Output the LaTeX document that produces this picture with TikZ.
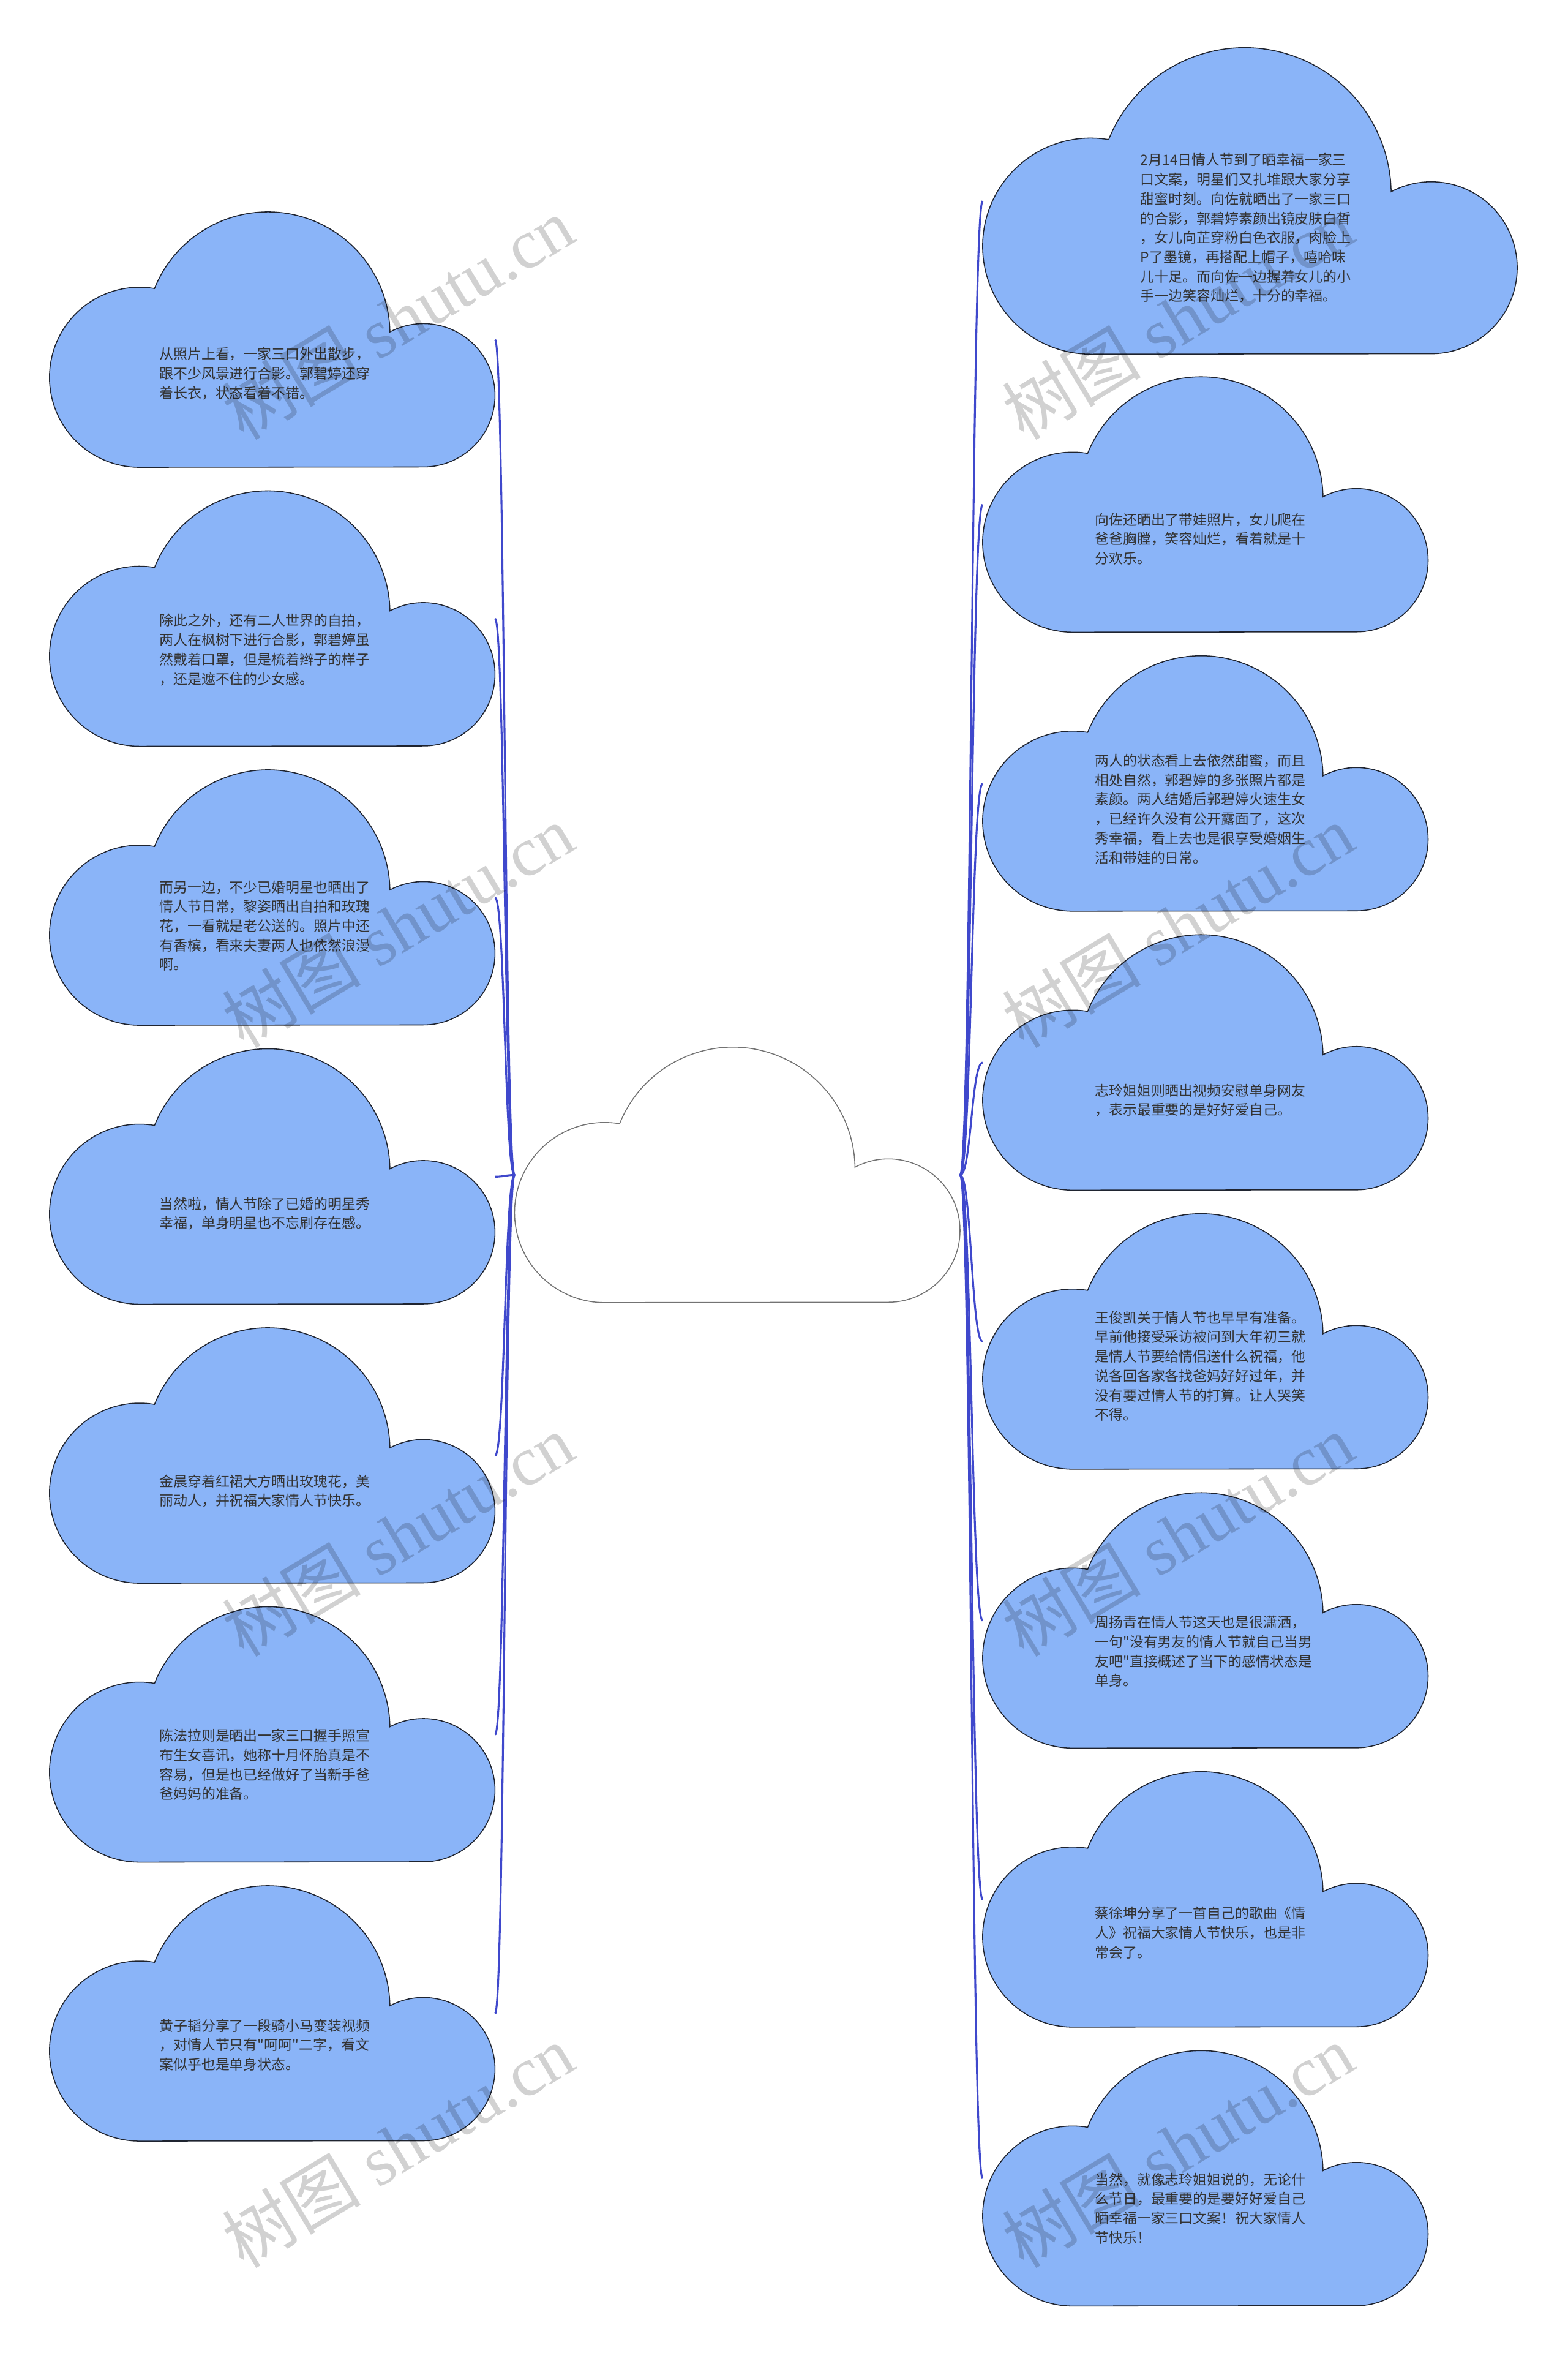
\documentclass[tikz,border=0pt]{standalone}
\usepackage{fontspec}
\newfontfamily\cjk{Noto Sans CJK SC}
\newfontfamily\wmlatin{Liberation Serif}
\definecolor{cloudfill}{HTML}{8AB4F8}
\definecolor{cloudedge}{HTML}{1F2430}
\definecolor{linkblue}{HTML}{3F48CC}
\definecolor{txtgray}{HTML}{333333}
% cloud outline: left lobe, dome, right lobe, flat bottom (box 297 x 170)
\tikzset{
  pics/cloud/.style={code={
    \path[pic actions] (60,170) arc[start angle=90, end angle=279.6, radius=60]
      arc[start angle=201.9, end angle=359, radius=81.4]
      arc[start angle=242.2, end angle=450, radius=47.75] -- cycle;
    \coordinate (-west) at (0,85);
    \coordinate (-east) at (297,85);
  }}
}
\begin{document}
\begin{tikzpicture}[x=0.025cm, y=-0.025cm,
    blob/.style={draw=cloudedge, fill=cloudfill, line width=0.45pt},
    hubblob/.style={draw=black!55, fill=white, line width=0.45pt},
    txt/.style={font=\cjk\fontsize{6.65}{9.2}\selectfont, text=txtgray, align=left, inner sep=0pt, anchor=west},
    link/.style={draw=linkblue, line width=0.9pt},
    wm/.style={font=\wmlatin\fontsize{33}{33}\selectfont, text=black, text opacity=0.18, rotate=31}]
    \useasboundingbox (0,0) rectangle (1045,1568);
    % centre
    \pic[hubblob] (hub) at (343,698) {cloud};
    % left clouds
    \foreach \n/\y in {l1/141.4, l2/327.3, l3/513.2, l4/699.1, l5/885, l6/1070.9, l7/1256.8}
        \pic[blob] (\n) at (33,\y) {cloud};
    % right clouds
    \begin{scope}[shift={(655,32)}, scale=1.2, transform shape]
        \pic[blob] (r1) at (0,0) {cloud};
    \end{scope}
    \foreach \n/\y in {r2/251.3, r3/437.2, r4/623.1, r5/809, r6/994.9, r7/1180.8, r8/1366.7}
        \pic[blob] (\n) at (655,\y) {cloud};
    % connectors
    \foreach \n in {l1,l2,l3,l4,l5,l6,l7}
        \draw[link] (hub-west) .. controls +(-6.5,0) and +(6.5,0) .. (\n-east);
    \foreach \n in {r1,r2,r3,r4,r5,r6,r7,r8}
        \draw[link] (hub-east) .. controls +(7.5,0) and +(-7.5,0) .. (\n-west);
    % left texts
    \node[txt] (t1) at (106,249) {从照片上看，一家三口外出散步，\\跟不少风景进行合影。郭碧婷还穿\\着长衣，状态看着不错。};
    \node[txt] (t2) at (106,433) {除此之外，还有二人世界的自拍，\\两人在枫树下进行合影，郭碧婷虽\\然戴着口罩，但是梳着辫子的样子\\，还是遮不住的少女感。};
    \node[txt] (t3) at (106,617) {而另一边，不少已婚明星也晒出了\\情人节日常，黎姿晒出自拍和玫瑰\\花，一看就是老公送的。照片中还\\有香槟，看来夫妻两人也依然浪漫\\啊。};
    \node[txt] (t4) at (106,808.7) {当然啦，情人节除了已婚的明星秀\\幸福，单身明星也不忘刷存在感。};
    \node[txt] (t5) at (106,993.6) {金晨穿着红裙大方晒出玫瑰花，美\\丽动人，并祝福大家情人节快乐。};
    \node[txt] (t6) at (106,1176) {陈法拉则是晒出一家三口握手照宣\\布生女喜讯，她称十月怀胎真是不\\容易，但是也已经做好了当新手爸\\爸妈妈的准备。};
    \node[txt] (t7) at (106,1362.7) {黄子韬分享了一段骑小马变装视频\\，对情人节只有"呵呵"二字，看文\\案似乎也是单身状态。};
    % right texts
    \node[txt] (s1) at (760,152) {2月14日情人节到了晒幸福一家三\\口文案，明星们又扎堆跟大家分享\\甜蜜时刻。向佐就晒出了一家三口\\的合影，郭碧婷素颜出镜皮肤白皙\\，女儿向芷穿粉白色衣服，肉脸上\\P了墨镜，再搭配上帽子，嘻哈味\\儿十足。而向佐一边握着女儿的小\\手一边笑容灿烂，十分的幸福。};
    \node[txt] (s2) at (729.6,359.2) {向佐还晒出了带娃照片，女儿爬在\\爸爸胸膛，笑容灿烂，看着就是十\\分欢乐。};
    \node[txt] (s3) at (729.6,539.1) {两人的状态看上去依然甜蜜，而且\\相处自然，郭碧婷的多张照片都是\\素颜。两人结婚后郭碧婷火速生女\\，已经许久没有公开露面了，这次\\秀幸福，看上去也是很享受婚姻生\\活和带娃的日常。};
    \node[txt] (s4) at (729.6,733.2) {志玲姐姐则晒出视频安慰单身网友\\，表示最重要的是好好爱自己。};
    \node[txt] (s5) at (729.6,910.4) {王俊凯关于情人节也早早有准备。\\早前他接受采访被问到大年初三就\\是情人节要给情侣送什么祝福，他\\说各回各家各找爸妈好好过年，并\\没有要过情人节的打算。让人哭笑\\不得。};
    \node[txt] (s6) at (729.6,1100.5) {周扬青在情人节这天也是很潇洒，\\一句"没有男友的情人节就自己当男\\友吧"直接概述了当下的感情状态是\\单身。};
    \node[txt] (s7) at (729.6,1287.9) {蔡徐坤分享了一首自己的歌曲《情\\人》祝福大家情人节快乐，也是非\\常会了。};
    \node[txt] (s8) at (729.6,1471.7) {当然，就像志玲姐姐说的，无论什\\么节日，最重要的是要好好爱自己\\晒幸福一家三口文案！祝大家情人\\节快乐！};
    % watermarks
    \foreach \x in {265,785}
        \foreach \y in {212,617,1023,1430}
            \node[wm] (wm\x\y) at (\x,\y) {{\cjk 树图} shutu.cn};
\end{tikzpicture}
\end{document}
